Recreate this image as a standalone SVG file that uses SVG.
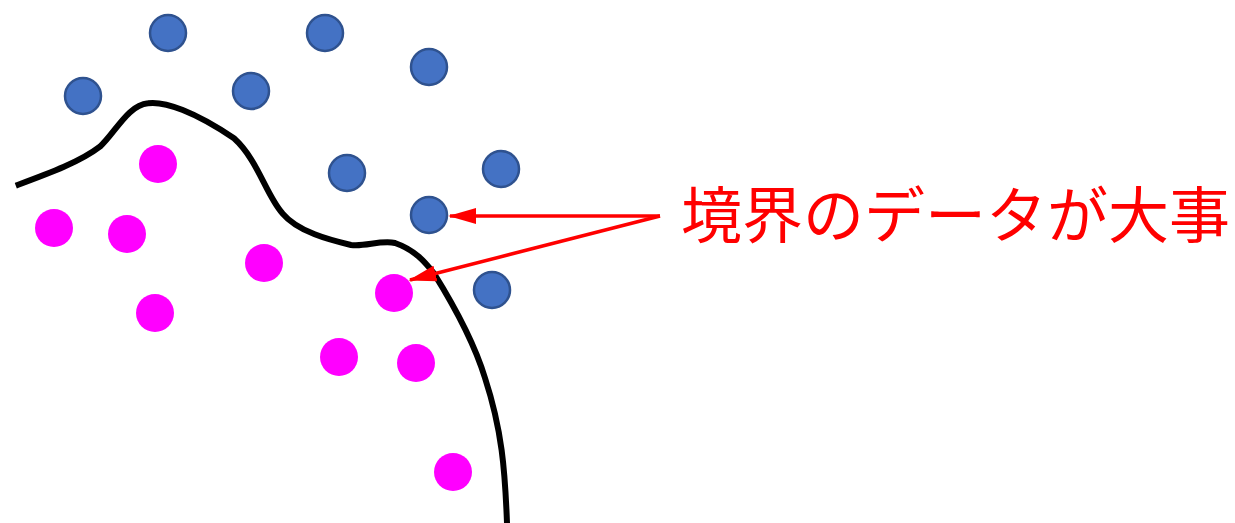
<svg xmlns="http://www.w3.org/2000/svg" width="1235" height="523" viewBox="0 0 1235 523">
<defs>
<style>
.b{fill:#4472C4;stroke:#2F528F;stroke-width:2.5}
.m{fill:#FF00FF}
.a{stroke:#FF0000;stroke-width:3.5;fill:none}
.t{font-family:"Noto Sans CJK JP","Noto Sans CJK SC",sans-serif;font-size:61px;fill:#FF0000}
</style>
<marker id="ah" markerWidth="8" markerHeight="4.6" refX="7.5" refY="2.3" orient="auto" markerUnits="strokeWidth">
<path d="M0,0 L8,2.3 L0,4.6 Z" fill="#FF0000"/>
</marker>
</defs>
<rect width="1235" height="523" fill="#FFFFFF"/>
<g id="boundary">
<path d="M15.8,185.7 C50,173 80,162 99.9,146.7 C115,133 128,105 148,103.3 C165,101 195,112 234,138.3 C258,160 266,195 282.4,213.3 C298,232 330,240 351,245 C365,247 380,240 395,243 C415,250 425,262 433.9,273.3 C458,312 475,345 485,378 C502,430 505,470 507,523" fill="none" stroke="#000000" stroke-width="6"/>
</g>
<g id="blue-points">
<circle id="b1" class="b" cx="168" cy="33" r="18"/>
<circle id="b2" class="b" cx="325" cy="33" r="18"/>
<circle id="b3" class="b" cx="429" cy="67" r="18"/>
<circle id="b4" class="b" cx="83" cy="96" r="18"/>
<circle id="b5" class="b" cx="251" cy="91" r="18"/>
<circle id="b6" class="b" cx="347" cy="173" r="18"/>
<circle id="b7" class="b" cx="501" cy="169" r="18"/>
<circle id="b8" class="b" cx="429" cy="215" r="18"/>
<circle id="b9" class="b" cx="492" cy="290" r="18"/>
</g>
<g id="magenta-points">
<circle id="m1" class="m" cx="158" cy="164" r="19"/>
<circle id="m2" class="m" cx="54" cy="228" r="19"/>
<circle id="m3" class="m" cx="127" cy="234" r="19"/>
<circle id="m4" class="m" cx="264" cy="263" r="19"/>
<circle id="m5" class="m" cx="155" cy="313" r="19"/>
<circle id="m6" class="m" cx="394" cy="293" r="19"/>
<circle id="m7" class="m" cx="339" cy="357" r="19"/>
<circle id="m8" class="m" cx="416" cy="363" r="19"/>
<circle id="m9" class="m" cx="453" cy="472" r="19"/>
</g>
<g id="connectors">
<line class="a" x1="660" y1="216" x2="450" y2="216" marker-end="url(#ah)"/>
<line class="a" x1="660" y1="216" x2="410" y2="280" marker-end="url(#ah)"/>
</g>
<g id="label">
<text class="t" x="681" y="238">境界のデータが大事</text>
</g>
</svg>
